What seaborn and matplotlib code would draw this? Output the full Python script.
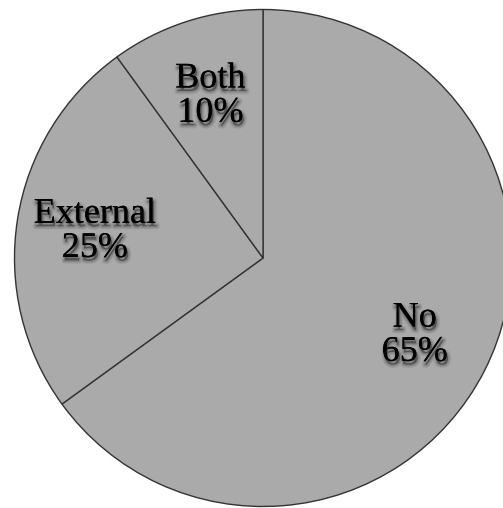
import matplotlib
matplotlib.use("Agg")
import matplotlib.pyplot as plt
import matplotlib.patheffects as pe
import seaborn as sns

categories = ["No", "External", "Both"]
values = [65, 25, 10]
labels = [f"{c}\n{v}%" for c, v in zip(categories, values)]

sns.set_theme(style="white")
plt.rcParams['font.family'] = ['Liberation Serif', 'DejaVu Serif']

W, H = 503, 508
fig = plt.figure(figsize=(W / 100, H / 100), dpi=100)
ax = fig.add_axes([0, 0, 1, 1])

cx, cy, R = 263, 258, 248.5
wedges, texts = ax.pie(
    values, labels=labels, startangle=90, counterclock=False,
    colors=["#aaaaaa"] * 3, labeldistance=0.685,
    wedgeprops=dict(edgecolor="#333333", linewidth=1.0),
    textprops=dict(fontsize=26, color="black", ha="center", va="center", linespacing=1.05),
)
shadow = []
for w, a in [(5, 0.05), (3.5, 0.07), (2, 0.1)]:
    shadow.append(pe.Stroke(offset=(1, -2.5), linewidth=w, foreground="black", alpha=a))
shadow.append(pe.withSimplePatchShadow(offset=(1, -2.5), shadow_rgbFace="black", alpha=0.2))
shadow.append(pe.Normal())
for t in texts:
    t.set_path_effects(shadow)

ax.set_xlim((0 - cx) / R, (W - cx) / R)
ax.set_ylim(-(H - cy) / R, cy / R)
ax.set_aspect("auto")
ax.axis("off")
fig.savefig("out.png", dpi=100)
